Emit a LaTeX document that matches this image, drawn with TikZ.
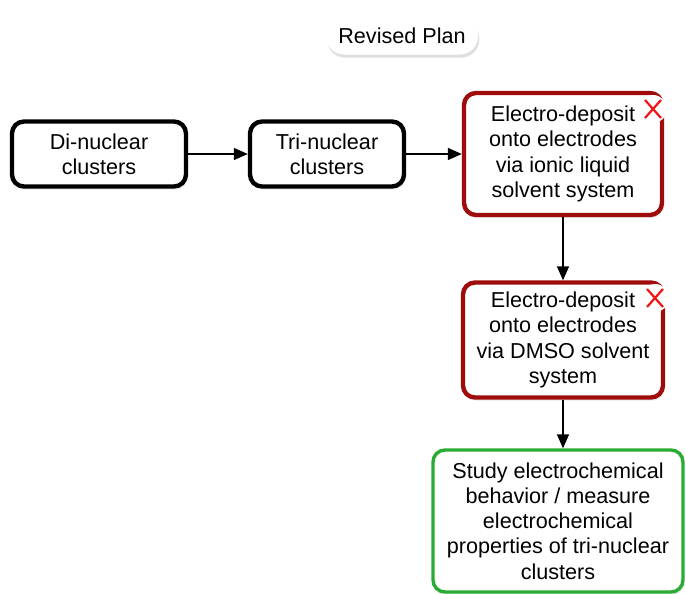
\documentclass[tikz,border=0pt]{standalone}
\usepackage{fontspec}
\setmainfont{Liberation Sans}
\usetikzlibrary{arrows.meta,shadows}
\definecolor{dropred}{RGB}{158,12,12}
\definecolor{keepgreen}{RGB}{42,172,52}
\definecolor{crossred}{RGB}{240,20,20}

\begin{document}
\begin{tikzpicture}[x=0.5pt,y=-0.5pt]
    \tikzstyle{every node}+=[font=\fontsize{10.8}{12.6}\selectfont, align=center]
    \tikzstyle{planbox}=[draw, rounded corners=6pt, fill=white, line width=2.2pt,
        drop shadow={opacity=0.18, shadow xshift=0.6pt, shadow yshift=-1.6pt}]
    \tikzstyle{dropped}=[planbox, draw=dropred]
    \tikzstyle{kept}=[planbox, draw=keepgreen, line width=1.7pt]
    \tikzstyle{link}=[-{Triangle[length=7pt,width=6pt]}, line width=0.75pt]
    \tikzstyle{xmark}=[circle, fill=white, minimum size=14pt, inner sep=0pt,
        path picture={\draw[crossred, line width=1.1pt]
            (path picture bounding box.center) ++(-4pt,-4.5pt) -- ++(8pt,9pt)
            (path picture bounding box.center) ++(-4pt,4.5pt) -- ++(8pt,-9pt);}]
    \useasboundingbox (0,0) rectangle (686,594);

    % title
    \node[fill=white, rounded corners=9pt, minimum width=76pt, minimum height=18.5pt,
        drop shadow={opacity=0.25, shadow xshift=0.6pt, shadow yshift=-1.6pt}]
        (title) at (402,36) {Revised Plan};

    % top row
    \node[planbox, minimum width=87pt, minimum height=32.5pt] (di) at (99,154)
        {Di-nuclear\\clusters};
    \node[planbox, minimum width=77pt, minimum height=32.5pt] (tri) at (327,154)
        {Tri-nuclear\\clusters};
    \node[dropped, minimum width=99pt, minimum height=61pt] (ionic) at (563,154)
        {Electro-deposit\\onto electrodes\\via ionic liquid\\solvent system};

    % right column
    \node[dropped, minimum width=100pt, minimum height=57.5pt] (dmso) at (563,340)
        {Electro-deposit\\onto electrodes\\via DMSO solvent\\system};
    \node[kept, minimum width=125pt, minimum height=71pt] (study) at (558,521)
        {Study electrochemical\\behavior / measure\\electrochemical\\properties of tri-nuclear\\clusters};

    % crossed out
    \node[xmark] (ionicx) at (653,109) {};
    \node[xmark] (dmsox) at (655,298) {};

    \draw[link] (di) -- (tri);
    \draw[link] (tri) -- (ionic);
    \draw[link] (ionic) -- (dmso);
    \draw[link] (dmso.south) -- (dmso.south |- study.north);
\end{tikzpicture}
\end{document}
